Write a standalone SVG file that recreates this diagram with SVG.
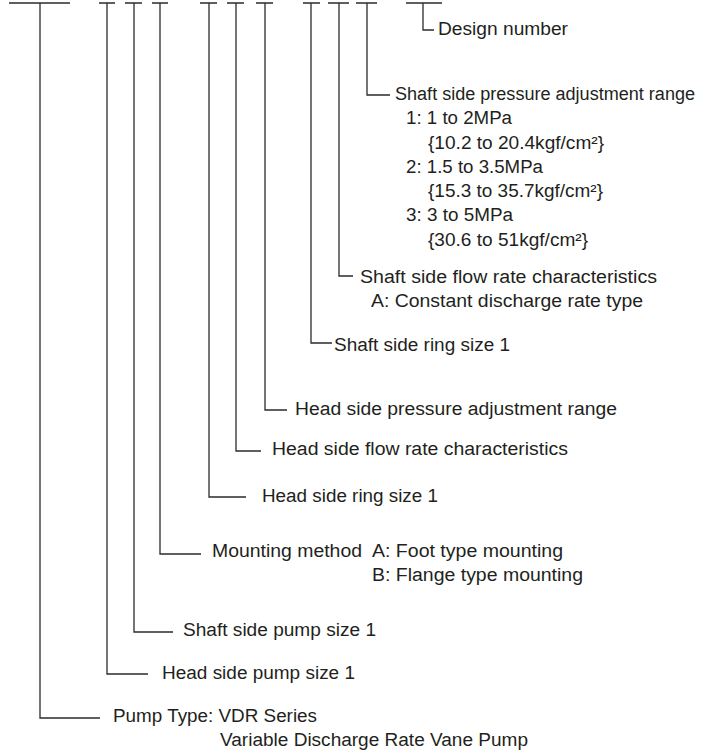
<svg xmlns="http://www.w3.org/2000/svg" width="707" height="751" viewBox="0 0 707 751">
<style>
.ln{fill:none;stroke:#2b2b2b;stroke-width:1.3}
text{font-family:"Liberation Sans",Arial,sans-serif;font-size:18px;fill:#231f20}
</style>
<rect width="707" height="751" fill="#fff"/>
<g id="connectors">
<path class="ln" d="M9 3H70M40 3V718H100"/>
<path class="ln" d="M99 3H115M107 3V674H148"/>
<path class="ln" d="M125 3H142M134 3V632H173"/>
<path class="ln" d="M152 3H168M160 3V554H201"/>
<path class="ln" d="M200 3H217M209 3V497H246"/>
<path class="ln" d="M227 3H244M236 3V451H261"/>
<path class="ln" d="M256 3H273M265 3V410H287"/>
<path class="ln" d="M303 3H320M311 3V343H332"/>
<path class="ln" d="M328 3H349M339 3V276H353"/>
<path class="ln" d="M356 3H377M367 3V95H390"/>
<path class="ln" d="M406 3H442M423 3V30H434"/>
</g>
<g id="design-number"><text x="438" y="34.5" textLength="130" lengthAdjust="spacingAndGlyphs">Design number</text></g>
<g id="shaft-pressure">
<text x="395" y="99.5" textLength="300" lengthAdjust="spacingAndGlyphs">Shaft side pressure adjustment range</text>
<text x="406" y="124" textLength="106" lengthAdjust="spacingAndGlyphs">1: 1 to 2MPa</text>
<text x="428" y="148.5" textLength="176" lengthAdjust="spacingAndGlyphs">{10.2 to 20.4kgf/cm²}</text>
<text x="406" y="172.5" textLength="137" lengthAdjust="spacingAndGlyphs">2: 1.5 to 3.5MPa</text>
<text x="428" y="197" textLength="175" lengthAdjust="spacingAndGlyphs">{15.3 to 35.7kgf/cm²}</text>
<text x="406" y="221" textLength="107" lengthAdjust="spacingAndGlyphs">3: 3 to 5MPa</text>
<text x="428" y="245.5" textLength="160" lengthAdjust="spacingAndGlyphs">{30.6 to 51kgf/cm²}</text>
</g>
<g id="shaft-flow">
<text x="360" y="283" textLength="297" lengthAdjust="spacingAndGlyphs">Shaft side flow rate characteristics</text>
<text x="371" y="307" textLength="272" lengthAdjust="spacingAndGlyphs">A: Constant discharge rate type</text>
</g>
<g id="shaft-ring"><text x="334" y="351" textLength="176" lengthAdjust="spacingAndGlyphs">Shaft side ring size 1</text></g>
<g id="head-pressure"><text x="295" y="415" textLength="322" lengthAdjust="spacingAndGlyphs">Head side pressure adjustment range</text></g>
<g id="head-flow"><text x="272" y="455" textLength="296" lengthAdjust="spacingAndGlyphs">Head side flow rate characteristics</text></g>
<g id="head-ring"><text x="262" y="502" textLength="176" lengthAdjust="spacingAndGlyphs">Head side ring size 1</text></g>
<g id="mounting">
<text x="212" y="557" textLength="150" lengthAdjust="spacingAndGlyphs">Mounting method</text>
<text x="372" y="557" textLength="191" lengthAdjust="spacingAndGlyphs">A: Foot type mounting</text>
<text x="372" y="581" textLength="211" lengthAdjust="spacingAndGlyphs">B: Flange type mounting</text>
</g>
<g id="shaft-pump"><text x="183" y="636" textLength="193" lengthAdjust="spacingAndGlyphs">Shaft side pump size 1</text></g>
<g id="head-pump"><text x="162" y="679" textLength="193" lengthAdjust="spacingAndGlyphs">Head side pump size 1</text></g>
<g id="pump-type">
<text x="113" y="721.5" textLength="204" lengthAdjust="spacingAndGlyphs">Pump Type: VDR Series</text>
<text x="220" y="745.5" textLength="308" lengthAdjust="spacingAndGlyphs">Variable Discharge Rate Vane Pump</text>
</g>
</svg>
